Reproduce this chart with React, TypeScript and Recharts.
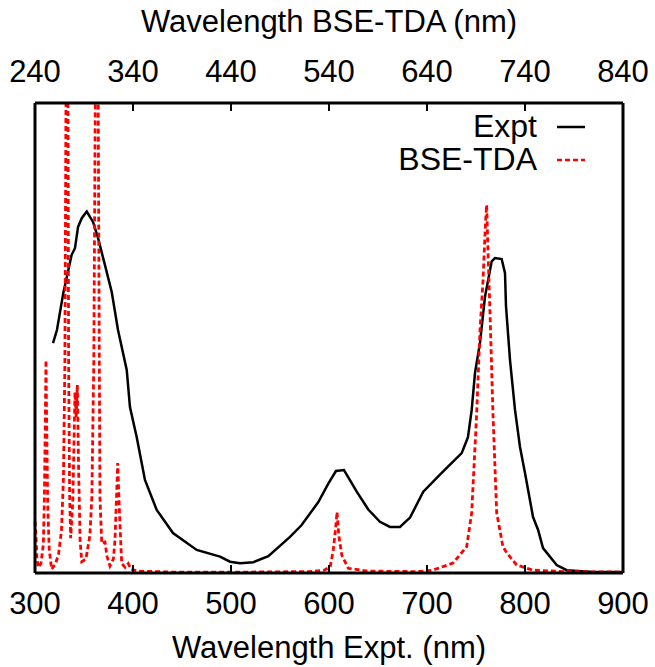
import { LineChart, Line, XAxis, YAxis } from 'recharts';

const exptWavelength = [
  318.4, 322.4, 328.9, 337.4, 340.8, 343.9, 347.7, 352.8, 359.2, 364.3, 371.4, 378.3, 384.7, 393.6,
  396.9, 403.8, 412.2, 424.2, 440.8, 465, 488.8, 499, 509.2, 522.8, 538.1, 560.2, 572.1, 589.1, 599.3,
  607.1, 615.3, 628.3, 640.1, 652, 662.2, 672.4, 682.7, 696.2, 715, 735.4, 741.8, 745.6, 749, 754.1,
  759.2, 766, 769.4, 776.2, 779.6, 780.6, 784.7, 789.8, 794.9, 800, 808.2, 813.3, 818.4, 832.3, 842.6,
  870, 900,
];
const exptIntensity = [
  0.489, 0.517, 0.596, 0.677, 0.691, 0.736, 0.755, 0.769, 0.747, 0.713, 0.655, 0.598, 0.517, 0.432,
  0.353, 0.289, 0.198, 0.134, 0.085, 0.049, 0.035, 0.024, 0.021, 0.023, 0.036, 0.077, 0.102, 0.151, 0.19,
  0.217, 0.219, 0.173, 0.135, 0.109, 0.098, 0.098, 0.118, 0.173, 0.213, 0.255, 0.289, 0.347, 0.426, 0.49,
  0.588, 0.663, 0.67, 0.668, 0.638, 0.568, 0.453, 0.347, 0.268, 0.213, 0.119, 0.092, 0.053, 0.017, 0.006,
  0.002, 0.002,
];

const bseWavelength = [
  240, 241, 242, 243.5, 246, 248.5, 249.5, 250.4, 251.2, 252, 252.9, 254.5, 257, 261, 264, 267, 269,
  270.5, 272, 272.7, 273.4, 274.3, 275.3, 276.4, 278.5, 280, 280.8, 282, 283.2, 284.5, 286, 287.7, 292,
  296, 298, 300, 301.5, 303, 304.5, 305.5, 306.3, 308.1, 311.4, 313.5, 316.5, 320, 321.6, 323, 324.4,
  325.8, 327.4, 328.5, 332, 335.2, 338, 345, 380, 460, 520, 535, 541.2, 544.4, 546.6, 548.2, 550, 553,
  559.7, 580, 630, 646, 666.5, 680.5, 685.6, 690.7, 694.1, 697.1, 699.8, 700.9, 702.3, 704.3, 707.3,
  711.1, 717.5, 721.3, 731.5, 748.2, 780, 840,
];
const bseIntensity = [
  0.11, 0.08, 0.03, 0.012, 0.02, 0.06, 0.15, 0.3, 0.453, 0.3, 0.15, 0.05, 0.008, 0.02, 0.04, 0.09, 0.2,
  0.45, 1.2, 1.6, 1.2, 0.45, 0.17, 0.074, 0.15, 0.3, 0.385, 0.33, 0.4, 0.22, 0.07, 0.024, 0.03,
  0.08, 0.16, 0.45, 1.0, 1.8, 1.0, 0.5, 0.16, 0.063, 0.066, 0.035, 0.015, 0.03, 0.07, 0.15, 0.234,
  0.15, 0.07, 0.02, 0.012, 0.02, 0.008, 0.004, 0.002, 0.002, 0.003, 0.006, 0.013, 0.05, 0.091, 0.13, 0.08, 0.038,
  0.01, 0.004, 0.003, 0.006, 0.021, 0.056, 0.128, 0.34, 0.517, 0.62, 0.75, 0.783, 0.68, 0.553, 0.34,
  0.128, 0.056, 0.043, 0.017, 0.006, 0.003, 0.002,
];

const bottomTicks = [300, 400, 500, 600, 700, 800, 900];
const topTicks = [240, 340, 440, 540, 640, 740, 840];

const exptData = exptWavelength.map((x, i) => ({ x, y: exptIntensity[i] }));
const bseData = bseWavelength.map((x, i) => ({ x, y: bseIntensity[i] }));

const FONT = '"Liberation Sans", Arial, Helvetica, sans-serif';

const legendRows = [
  { name: 'Expt', color: '#000000', dash: undefined as string | undefined },
  { name: 'BSE-TDA', color: '#ff0000', dash: '5 3' },
];

function LegendBox() {
  return (
    <div style={{ position: 'absolute', left: 300, top: 110, width: 290, fontFamily: FONT, fontSize: 32, color: '#000' }}>
      {legendRows.map((r) => (
        <div
          key={r.name}
          style={{ display: 'flex', justifyContent: 'flex-end', alignItems: 'center', height: 33, paddingRight: 5 }}
        >
          <span style={{ lineHeight: '33px' }}>{r.name}</span>
          <svg width={28} height={10} style={{ marginLeft: 20 }}>
            <line x1={0} x2={28} y1={5} y2={5} stroke={r.color} strokeWidth={2.5} strokeDasharray={r.dash} />
          </svg>
        </div>
      ))}
    </div>
  );
}

export default function App() {
  const tickStyle = { fill: '#000', fontSize: 31, fontFamily: FONT };
  const labelStyle = { fill: '#000', fontSize: 31, fontFamily: FONT };
  return (
    <div style={{ position: 'absolute', left: 0, top: 0, width: 655, height: 667, background: '#fff' }}>
      <LineChart width={655} height={667} margin={{ top: 0, right: 0, bottom: 0, left: 0 }} style={{ fontFamily: FONT }}>
        <XAxis
          xAxisId="expt"
          dataKey="x"
          type="number"
          orientation="bottom"
          domain={[300, 900]}
          ticks={bottomTicks}
          interval={0}
          height={94}
          tickSize={-8}
          tickMargin={27}
          tick={tickStyle}
          axisLine={{ stroke: '#000', strokeWidth: 3 }}
          tickLine={{ stroke: '#000', strokeWidth: 2 }}
          label={{ value: 'Wavelength Expt. (nm)', position: 'insideBottom', offset: 9, style: labelStyle }}
        />
        <XAxis
          xAxisId="bse"
          dataKey="x"
          type="number"
          orientation="top"
          domain={[240, 840]}
          ticks={topTicks}
          interval={0}
          height={103}
          tickSize={-8}
          tickMargin={29}
          tick={tickStyle}
          axisLine={{ stroke: '#000', strokeWidth: 3 }}
          tickLine={{ stroke: '#000', strokeWidth: 2 }}
          label={{ value: 'Wavelength BSE-TDA (nm)', position: 'insideTop', offset: 10, style: labelStyle }}
        />
        <YAxis
          yAxisId="left"
          type="number"
          domain={[0, 1]}
          allowDataOverflow
          width={35}
          tick={false}
          tickLine={false}
          axisLine={{ stroke: '#000', strokeWidth: 3 }}
        />
        <YAxis
          yAxisId="right"
          orientation="right"
          type="number"
          domain={[0, 1]}
          allowDataOverflow
          width={32}
          tick={false}
          tickLine={false}
          axisLine={{ stroke: '#000', strokeWidth: 3 }}
        />
        <Line
          data={exptData}
          xAxisId="expt"
          yAxisId="left"
          dataKey="y"
          type="linear"
          stroke="#000"
          strokeWidth={2.5}
          dot={false}
          activeDot={false}
          isAnimationActive={false}
        />
        <Line
          data={bseData}
          xAxisId="bse"
          yAxisId="left"
          dataKey="y"
          type="linear"
          stroke="#ff0000"
          strokeWidth={2.8}
          strokeDasharray="5 3"
          dot={false}
          activeDot={false}
          isAnimationActive={false}
        />
      </LineChart>
      <LegendBox />
    </div>
  );
}
